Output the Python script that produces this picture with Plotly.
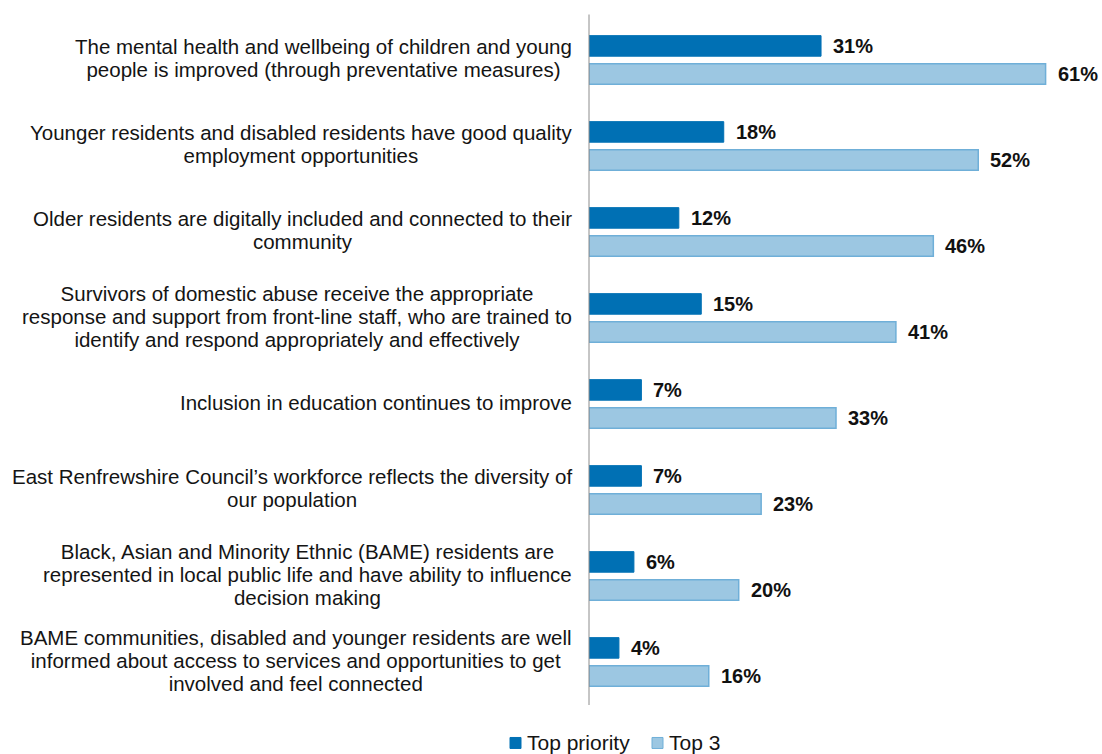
import plotly.graph_objects as go

categories = [
    ["The mental health and wellbeing of children and young",
     "people is improved (through preventative measures)"],
    ["Younger residents and disabled residents have good quality",
     "employment opportunities"],
    ["Older residents are digitally included and connected to their",
     "community"],
    ["Survivors of domestic abuse receive the appropriate",
     "response and support from front-line staff, who are trained to",
     "identify and respond appropriately and effectively"],
    ["Inclusion in education continues to improve"],
    ["East Renfrewshire Council\u2019s workforce reflects the diversity of",
     "our population"],
    ["Black, Asian and Minority Ethnic (BAME) residents are",
     "represented in local public life and have ability to influence",
     "decision making"],
    ["BAME communities, disabled and younger residents are well",
     "informed about access to services and opportunities to get",
     "involved and feel connected"],
]
top_priority = [31, 18, 12, 15, 7, 7, 6, 4]
top_3 = [61, 52, 46, 41, 33, 23, 20, 16]
series_names = ["Top priority", "Top 3"]

keys = [f"c{i}" for i in range(len(categories))]

DARK = "#0070B4"
LIGHT = "#9CC7E2"
LIGHT_EDGE = "#6FAFD8"
TEXT = "#141414"
FONT = "Liberation Sans, Arial, sans-serif"

# figure geometry (pixels)
W_FIG, H_FIG = 1102, 754
L, R, T, B = 589, 4, 16.5, 49
PW = W_FIG - L - R
PH = H_FIG - T - B


def paper_x(px):
    return (px - L) / PW


def paper_y(py):
    return (H_FIG - B - py) / PH


fig = go.Figure()
fig.add_trace(go.Bar(
    name=series_names[0], y=keys, x=top_priority, orientation="h",
    marker=dict(color=DARK, line=dict(color=DARK, width=1)),
    showlegend=False,
))
fig.add_trace(go.Bar(
    name=series_names[1], y=keys, x=top_3, orientation="h",
    marker=dict(color=LIGHT, line=dict(color=LIGHT_EDGE, width=1.5)),
    showlegend=False,
))

annotations = []
# category labels: each line centred, block right-aligned next to the axis
for k, lines in zip(keys, categories):
    text = "<br>".join(f"<span style='font-size:20.5px'>{ln}</span>" for ln in lines)
    annotations.append(dict(
        x=0, xref="paper", xanchor="right", xshift=-15,
        y=k, yref="y", yanchor="middle", yshift=2,
        text=text, align="center", showarrow=False,
        font=dict(family=FONT, size=17.7, color=TEXT),
    ))

# value labels beside each bar
for k, a, b in zip(keys, top_priority, top_3):
    for val, shift in ((a, 14.2), (b, -14.2)):
        annotations.append(dict(
            x=val, xref="x", xanchor="left", xshift=10,
            y=k, yref="y", yanchor="middle", yshift=shift,
            text=f"<b>{val}%</b>", showarrow=False,
            font=dict(family=FONT, size=20, color="#111111"),
        ))

# legend
legend_items = [(series_names[0], DARK, DARK, 510), (series_names[1], LIGHT, LIGHT_EDGE, 652)]
shapes = []
LEG_Y = 743
for name, fill, edge, x0 in legend_items:
    shapes.append(dict(
        type="rect", xref="paper", yref="paper",
        x0=paper_x(x0), x1=paper_x(x0 + 11),
        y0=paper_y(LEG_Y + 5.5), y1=paper_y(LEG_Y - 5.5),
        fillcolor=fill, line=dict(color=edge, width=1),
    ))
    annotations.append(dict(
        x=paper_x(x0 + 15), xref="paper", xanchor="left",
        y=paper_y(LEG_Y), yref="paper", yanchor="middle",
        text=name, showarrow=False,
        font=dict(family=FONT, size=21, color=TEXT),
    ))

# vertical category axis line
shapes.append(dict(
    type="line", xref="paper", yref="paper",
    x0=0, x1=0, y0=0, y1=paper_y(14),
    line=dict(color="#8c8c8c", width=1),
))

fig.update_layout(
    width=W_FIG, height=H_FIG,
    margin=dict(l=L, r=R, t=T, b=B),
    paper_bgcolor="white", plot_bgcolor="white",
    barmode="group", bargap=0.345, bargroupgap=0.27,
    font=dict(family=FONT, size=17, color=TEXT),
    showlegend=False,
    xaxis=dict(range=[0, 68], visible=False, fixedrange=True),
    yaxis=dict(
        categoryorder="array", categoryarray=keys, autorange="reversed",
        showticklabels=False, showgrid=False, zeroline=False,
        showline=False, ticks="", fixedrange=True,
    ),
    annotations=annotations,
    shapes=shapes,
)

fig.write_html("out.html")
